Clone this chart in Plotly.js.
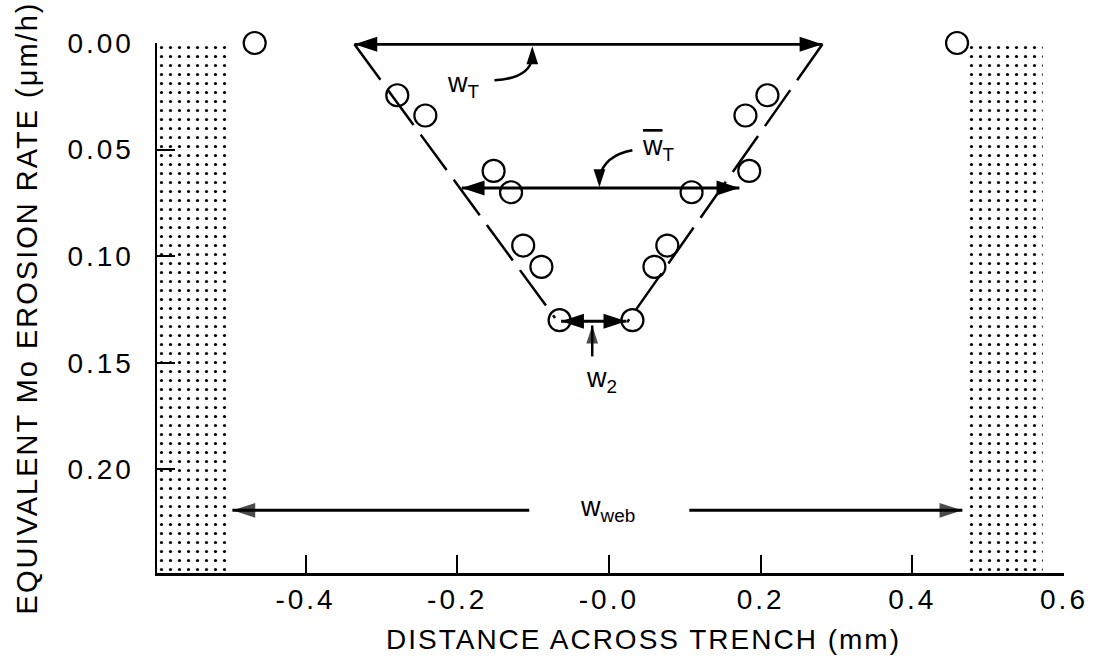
<!DOCTYPE html>
<html>
<head>
<meta charset="utf-8">
<script src="https://cdn.plot.ly/plotly-3.0.1.min.js"></script>
<style>
  html, body { margin: 0; padding: 0; background: #fff; }
  #chart { width: 1099px; height: 658px; }
  .xtick text, .ytick text { letter-spacing: 3px; }
  .g-ytitle text { letter-spacing: 2px; }
  g.annotation[data-index="4"] text { letter-spacing: 2px; }
</style>
</head>
<body>
<div id="chart"></div>
<script>
// ---- data ----
const circleX = [-0.467, 0.459, -0.279, -0.242, 0.180, 0.209, -0.152, -0.129, 0.109, 0.185, -0.113, -0.089, 0.077, 0.060, -0.065, 0.031];
const circleY = [0.000, 0.000, 0.0245, 0.034, 0.034, 0.0245, 0.060, 0.070, 0.070, 0.060, 0.095, 0.105, 0.095, 0.105, 0.130, 0.130];

const leftEdgeX = [-0.3355, -0.071];
const leftEdgeY = [0.0006, 0.129];
const rightEdgeX = [0.2815, 0.024];
const rightEdgeY = [0.0006, 0.131];

const leftWebX = [-0.5958, -0.500];
const rightWebX = [0.470, 0.572];
const webDepth = [0, 0.2486];

// [x start, x end, y]
const wTspan = [-0.3355, 0.2815, 0.0006];
const wTbarSpan = [-0.194, 0.172, 0.068];
const w2Span = [-0.063, 0.023, 0.1305];
const wWebLeft = [-0.105, -0.4964, 0.2192];
const wWebRight = [0.106, 0.466, 0.2192];
// [x, y start, y end]
const w2Pointer = [-0.022, 0.147, 0.1325];
const wTPointerTip = [-0.101, 0.0015];
const wTbarPointerTip = [-0.0125, 0.0677];

const xTickVals = [-0.4, -0.2, 0.0, 0.2, 0.4, 0.6];
const xTickText = ['-0.4', '-0.2', '-0.0', '0.2', '0.4', '0.6'];
const yTickVals = [0, 0.05, 0.10, 0.15, 0.20];
const yTickText = ['0.00', '0.05', '0.10', '0.15', '0.20'];

const FONT = 'Liberation Sans, Arial, Helvetica, sans-serif';
const HEAD = 24;
const SMALL_HEAD = 19;

function rectTrace(xs) {
  return {
    x: [xs[0], xs[1], xs[1], xs[0], xs[0]],
    y: [webDepth[0], webDepth[0], webDepth[1], webDepth[1], webDepth[0]],
    type: 'scatter', mode: 'lines', fill: 'toself',
    fillcolor: 'rgba(255,255,255,0)',
    fillpattern: {shape: '.', size: 9, solidity: 0.1, fgcolor: '#000', bgcolor: '#fff'},
    line: {width: 0}, hoverinfo: 'skip', showlegend: false
  };
}
function dblArrowTrace(s) {
  return {x: [s[0], s[1]], y: [s[2], s[2]], type: 'scatter', mode: 'lines+markers', cliponaxis: false,
    line: {color: '#000', width: 3},
    marker: {symbol: 'arrow', size: HEAD, angle: [-90, 90], color: '#000', line: {width: 0}},
    hoverinfo: 'skip', showlegend: false};
}
function hArrowTrace(s) {
  const ang = s[1] < s[0] ? -90 : 90;
  return {x: [s[0], s[1]], y: [s[2], s[2]], type: 'scatter', mode: 'lines+markers', cliponaxis: false,
    line: {color: '#000', width: 3},
    marker: {symbol: 'arrow', size: [0, HEAD], angle: [ang, ang], color: '#000', line: {width: 0}},
    hoverinfo: 'skip', showlegend: false};
}
function vArrowTrace(s) {
  return {x: [s[0], s[0]], y: [s[1], s[2]], type: 'scatter', mode: 'lines+markers', cliponaxis: false,
    line: {color: '#000', width: 2.5},
    marker: {symbol: 'arrow', size: [0, SMALL_HEAD], angle: [0, 0], color: '#000', line: {width: 0}},
    hoverinfo: 'skip', showlegend: false};
}
function tipTrace(p, ang) {
  return {x: [p[0]], y: [p[1]], type: 'scatter', mode: 'markers', cliponaxis: false,
    marker: {symbol: 'arrow', size: SMALL_HEAD, angle: ang, color: '#000', line: {width: 0}},
    hoverinfo: 'skip', showlegend: false};
}

const traces = [
  rectTrace(leftWebX),
  rectTrace(rightWebX),
  {x: leftEdgeX, y: leftEdgeY, type: 'scatter', mode: 'lines',
   line: {color: '#000', width: 2.5, dash: '44px,12px'}, hoverinfo: 'skip', showlegend: false},
  {x: rightEdgeX, y: rightEdgeY, type: 'scatter', mode: 'lines',
   line: {color: '#000', width: 2.5, dash: '44px,12px'}, hoverinfo: 'skip', showlegend: false},
  dblArrowTrace(wTspan),
  dblArrowTrace(wTbarSpan),
  dblArrowTrace(w2Span),
  hArrowTrace(wWebLeft),
  hArrowTrace(wWebRight),
  vArrowTrace(w2Pointer),
  tipTrace(wTPointerTip, 0),
  tipTrace(wTbarPointerTip, 180),
  {x: circleX, y: circleY, type: 'scatter', mode: 'markers', cliponaxis: false,
   marker: {symbol: 'circle-open', size: 22, color: '#000', line: {width: 2.2, color: '#000'}},
   showlegend: false}
];

function label(txt, x, y, size) {
  return {x: x, y: y, xref: 'x', yref: 'y', text: txt, showarrow: false,
    font: {family: FONT, size: size || 27, color: '#000'}, xanchor: 'center', yanchor: 'middle'};
}

const annotations = [
  label('w<sub>T</sub>', -0.192, 0.0195),
  label('<span style="text-decoration:overline">w</span><sub>T</sub>', 0.0653, 0.0494),
  label('w<sub>2</sub>', -0.0099, 0.158),
  label('w<sub>web</sub>', -0.002, 0.2185),
  {x: 0.5364, y: -0.126, xref: 'paper', yref: 'paper', text: 'DISTANCE ACROSS TRENCH (mm)',
   showarrow: false, xanchor: 'center', yanchor: 'middle',
   font: {family: FONT, size: 28, color: '#000'}}
];

const shapes = [
  {type: 'path', xref: 'x', yref: 'y', path: 'M -0.151 0.0175 Q -0.105 0.0166 -0.101 0.0070',
   line: {color: '#000', width: 2.5}},
  {type: 'path', xref: 'x', yref: 'y', path: 'M 0.031 0.0503 Q -0.006 0.0527 -0.0125 0.0630',
   line: {color: '#000', width: 2.5}}
];

const layout = {
  width: 1099, height: 658,
  margin: {l: 157, r: 35, t: 43, b: 85, pad: 0},
  paper_bgcolor: '#fff', plot_bgcolor: '#fff',
  showlegend: false,
  font: {family: FONT, color: '#000'},
  xaxis: {
    range: [-0.5958, 0.6], showgrid: false, zeroline: false,
    showline: true, linecolor: '#000', linewidth: 2.5,
    ticks: 'inside', ticklen: 18, tickwidth: 2, tickcolor: '#000',
    tickvals: xTickVals, ticktext: xTickText,
    tickfont: {family: FONT, size: 28, color: '#000'},
    ticklabelstandoff: 0
  },
  yaxis: {
    range: [0.2486, 0], showgrid: false, zeroline: false,
    showline: true, linecolor: '#000', linewidth: 2.5,
    ticks: 'inside', ticklen: 18, tickwidth: 2, tickcolor: '#000',
    tickvals: yTickVals, ticktext: yTickText,
    tickfont: {family: FONT, size: 28, color: '#000'},
    ticklabelstandoff: 15,
    title: {text: 'EQUIVALENT Mo EROSION RATE (\u03bcm/h)', font: {family: FONT, size: 29, color: '#000'}, standoff: 22}
  },
  annotations: annotations,
  shapes: shapes
};

Plotly.newPlot('chart', traces, layout, {displayModeBar: false, staticPlot: true});
</script>
</body>
</html>
